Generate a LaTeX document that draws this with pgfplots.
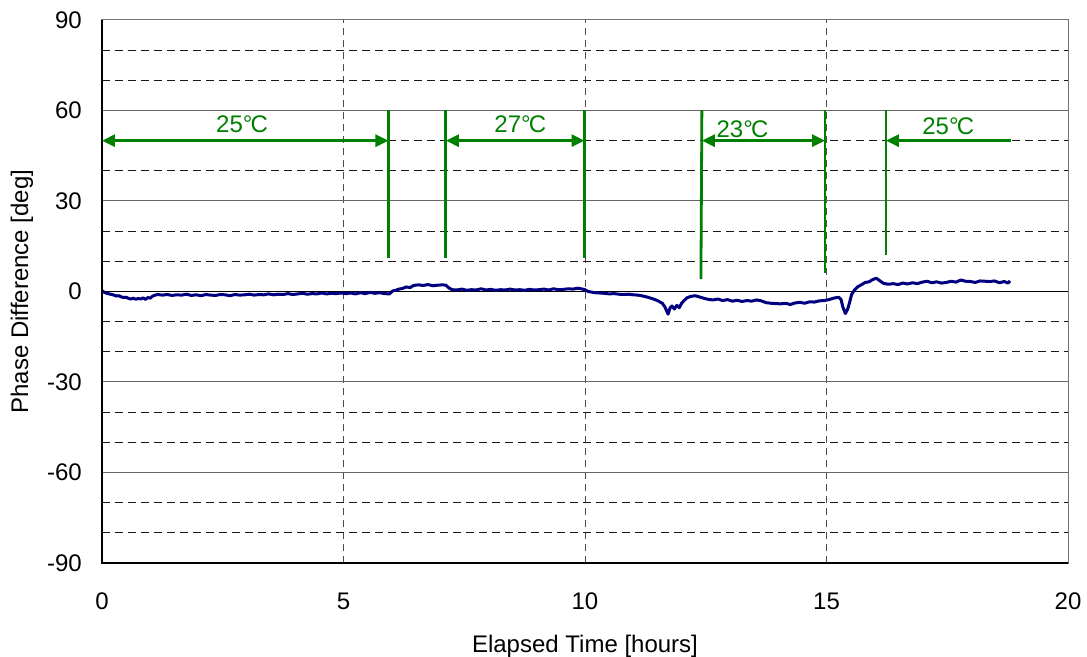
\documentclass[border=0pt]{standalone}
\usepackage{fontspec}
\setmainfont{Liberation Sans}
\usepackage{pgfplots}
\pgfplotsset{compat=1.18}
\usetikzlibrary{arrows.meta}
\definecolor{navyline}{RGB}{0,0,128}
\definecolor{grn}{RGB}{0,128,0}
\newcommand{\degC}{°\kern-0.08em C}
\begin{document}
\fontsize{24pt}{28pt}\selectfont
\begin{tikzpicture}
\begin{axis}[
  scale only axis, width=966pt, height=543pt,
  xmin=0, xmax=20, ymin=-90, ymax=90,
  xtick={0,5,10,15,20}, ytick={-90,-60,-30,0,30,60,90},
  minor ytick={-80,-70,-50,-40,-20,-10,10,20,40,50,70,80},
  ymajorgrids, yminorgrids, xmajorgrids,
  major grid style={draw=black!60, line width=1pt, solid},
  minor grid style={draw=black!90, line width=0.9pt, dash pattern=on 8pt off 5pt},
  x grid style={draw=black!70, line width=1pt, dash pattern=on 7pt off 5pt},
  axis line style={draw=black!55, line width=1pt},
  tick style={draw=none},
  font=\fontsize{24pt}{28pt}\selectfont,
  /pgf/number format/assume math mode=true,
  yticklabel style={anchor=east, inner sep=0pt, xshift=-20pt},
  xticklabel style={anchor=base, inner sep=0pt, yshift=-46pt},
  xlabel={Elapsed Time [hours]},
  ylabel={Phase Difference [deg]},
  xlabel style={at={(axis description cs:0.5,-0.1657)}, anchor=base},
  ylabel style={at={(axis description cs:-0.0828,0.5)}, anchor=center},
  clip=false,
]
% zero line
\addplot[black, line width=1.1pt] coordinates {(0,0) (20,0)};
% data
\addplot[navyline, line width=3pt, line join=round] coordinates {
(0.00,0.3) (0.05,-0.3) (0.10,-0.6) (0.15,-0.8) (0.20,-1.0) (0.25,-1.2) (0.30,-1.5) (0.35,-1.4)
(0.40,-1.8) (0.45,-2.0) (0.50,-1.9) (0.55,-2.3) (0.60,-2.5) (0.65,-2.2) (0.70,-2.6) (0.75,-2.3)
(0.80,-2.5) (0.85,-2.1) (0.90,-2.6) (0.95,-2.0) (1.00,-2.2) (1.05,-1.5) (1.10,-1.2) (1.15,-1.0)
(1.25,-1.2) (1.35,-1.0) (1.45,-1.3) (1.55,-1.1) (1.65,-1.2) (1.75,-0.9) (1.85,-1.3) (1.95,-1.1)
(2.05,-1.4) (2.15,-1.0) (2.25,-1.2) (2.35,-1.3) (2.45,-1.0) (2.55,-1.1) (2.65,-1.4) (2.75,-1.0)
(2.85,-1.2) (2.95,-1.1) (3.05,-0.9) (3.15,-1.2) (3.25,-1.0) (3.35,-1.1) (3.45,-0.8) (3.55,-1.1)
(3.65,-0.9) (3.75,-1.0) (3.85,-0.7) (3.95,-1.0) (4.05,-0.8) (4.15,-0.6) (4.25,-0.9) (4.35,-0.7)
(4.45,-0.8) (4.55,-0.5) (4.65,-0.8) (4.75,-0.6) (4.85,-0.7) (4.95,-0.5) (5.05,-0.7) (5.15,-0.5)
(5.25,-0.8) (5.35,-0.4) (5.45,-0.7) (5.55,-0.3) (5.65,-0.6) (5.75,-0.4) (5.85,-0.7) (5.95,-0.8)
(6.02,0.2) (6.08,0.4) (6.15,0.8) (6.22,1.0) (6.30,1.5) (6.38,1.3) (6.45,2.0) (6.55,2.2)
(6.65,2.0) (6.75,2.3) (6.85,1.9) (6.95,2.1) (7.05,2.2) (7.12,2.1) (7.18,1.2) (7.25,0.6)
(7.35,0.5) (7.45,0.8) (7.55,0.4) (7.65,0.6) (7.75,0.5) (7.85,0.9) (7.95,0.5) (8.05,0.7)
(8.15,0.4) (8.25,0.6) (8.35,0.5) (8.45,0.8) (8.55,0.5) (8.65,0.6) (8.75,0.4) (8.85,0.7)
(8.95,0.5) (9.05,0.6) (9.15,0.8) (9.25,0.5) (9.35,0.9) (9.45,0.6) (9.55,0.7) (9.65,0.9)
(9.75,0.8) (9.85,1.1) (9.92,0.9) (10.00,0.6) (10.05,0.1) (10.10,-0.1) (10.20,-0.4) (10.30,-0.5)
(10.40,-0.6) (10.50,-0.8) (10.60,-0.7) (10.70,-0.9) (10.80,-1.0) (10.90,-0.9) (11.00,-1.1) (11.10,-1.2)
(11.20,-1.5) (11.30,-1.9) (11.40,-2.4) (11.50,-3.0) (11.60,-3.9) (11.65,-5.0) (11.72,-7.5) (11.76,-5.5)
(11.80,-4.8) (11.85,-5.8) (11.90,-4.6) (11.95,-5.4) (12.00,-3.9) (12.05,-3.0) (12.12,-2.0) (12.20,-1.6)
(12.28,-1.4) (12.35,-1.7) (12.45,-2.2) (12.55,-2.6) (12.65,-2.8) (12.75,-2.5) (12.85,-3.0) (12.95,-2.7)
(13.05,-3.2) (13.15,-2.9) (13.25,-3.3) (13.35,-3.0) (13.45,-3.2) (13.55,-2.8) (13.65,-3.1) (13.75,-3.7)
(13.85,-3.9) (13.95,-4.0) (14.05,-4.1) (14.15,-3.9) (14.25,-4.3) (14.35,-3.8) (14.45,-3.6) (14.55,-3.9)
(14.65,-3.4) (14.75,-3.5) (14.85,-3.1) (14.95,-3.0) (15.05,-2.7) (15.15,-2.2) (15.25,-1.9) (15.30,-2.6)
(15.34,-5.2) (15.39,-7.3) (15.44,-5.8) (15.48,-3.5) (15.52,-1.0) (15.58,0.5) (15.65,1.6) (15.72,2.2)
(15.80,3.0) (15.88,3.2) (15.95,3.9) (16.03,4.4) (16.10,3.6) (16.18,2.7) (16.28,2.4) (16.38,2.6)
(16.48,2.3) (16.58,2.8) (16.68,2.5) (16.78,2.9) (16.88,2.6) (16.98,3.1) (17.08,3.4) (17.18,2.9)
(17.28,3.2) (17.38,2.8) (17.48,3.0) (17.58,3.4) (17.68,3.1) (17.78,3.8) (17.88,3.4) (17.98,3.3)
(18.08,3.0) (18.18,3.5) (18.28,3.4) (18.38,3.3) (18.48,3.5) (18.58,2.9) (18.68,3.3) (18.76,2.8)
(18.80,3.5)
};
% green vertical markers
\addplot[grn, line width=2.8pt] coordinates {(5.93,60) (5.93,11.0)};
\addplot[grn, line width=2.8pt] coordinates {(7.12,60) (7.12,11.1)};
\addplot[grn, line width=2.8pt] coordinates {(9.99,60) (9.99,11.1)};
\addplot[grn, line width=2.8pt] coordinates {(12.42,60) (12.40,4.1)};
\addplot[grn, line width=2.8pt] coordinates {(14.97,60) (14.97,6.2)};
\addplot[grn, line width=2.8pt] coordinates {(16.23,60) (16.23,12.1)};
% arrows
\addplot[grn, line width=2.8pt, {Triangle[length=13pt,width=12pt]}-{Triangle[length=13pt,width=12pt]}] coordinates {(0,50) (5.93,50)};
\addplot[grn, line width=2.8pt, {Triangle[length=13pt,width=12pt]}-{Triangle[length=13pt,width=12pt]}] coordinates {(7.12,50) (9.99,50)};
\addplot[grn, line width=2.8pt, {Triangle[length=13pt,width=12pt]}-{Triangle[length=13pt,width=12pt]}] coordinates {(12.42,50) (14.97,50)};
\addplot[grn, line width=2.8pt, {Triangle[length=13pt,width=12pt]}-] coordinates {(16.23,50) (18.83,50)};
% labels
\node[grn, anchor=base] at (axis cs:2.9,52.6) {25\degC};
\node[grn, anchor=base] at (axis cs:8.66,52.6) {27\degC};
\node[grn, anchor=base] at (axis cs:13.26,51.1) {23\degC};
\node[grn, anchor=base] at (axis cs:17.52,51.9) {25\degC};
% black left and bottom axis lines
\draw[black, line width=1.1pt] (axis description cs:0,1) -- (axis description cs:0,0) -- (axis description cs:1,0);
\end{axis}
\pgfresetboundingbox
\path (-102pt,-93pt) rectangle (985pt,563pt);
\end{tikzpicture}
\end{document}
